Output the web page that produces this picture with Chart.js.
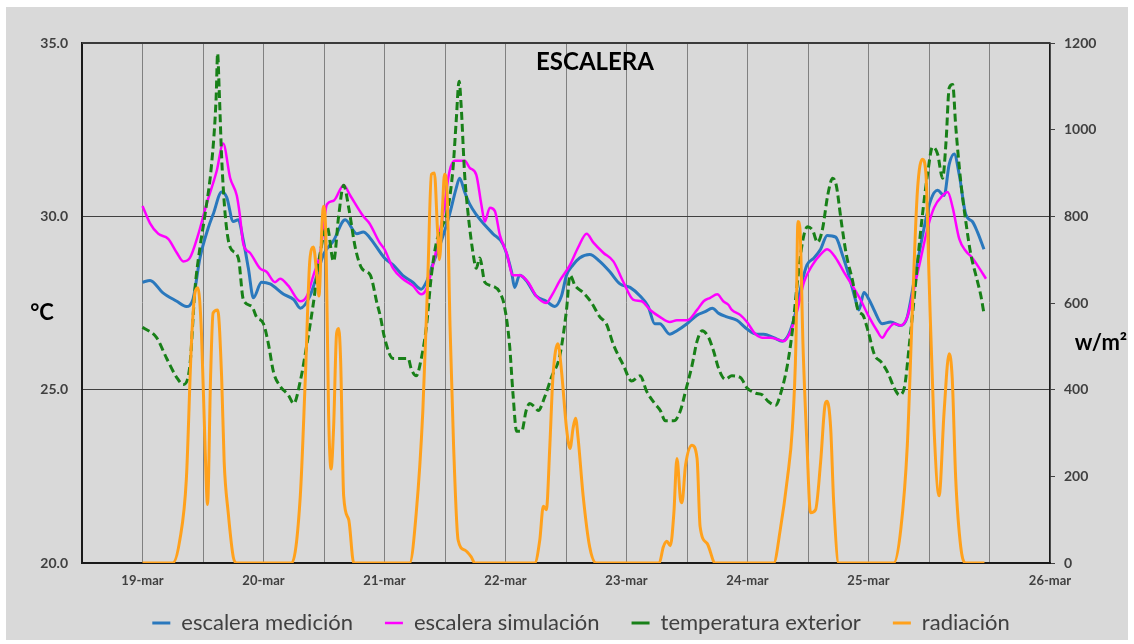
<!DOCTYPE html>
<html>
<head>
<meta charset="utf-8">
<title>ESCALERA</title>
<script src="https://cdn.jsdelivr.net/npm/chart.js@4.4.1/dist/chart.umd.min.js"></script>
<style>
  html, body { margin: 0; padding: 0; background: #fff; }
  #wrap { width: 1134px; height: 644px; }
</style>
</head>
<body>
<div id="wrap"><canvas id="chart" width="1134" height="644"></canvas></div>
<script>
// hours counted from 19-mar 00:00
const dayLabels = ['19-mar', '20-mar', '21-mar', '22-mar', '23-mar', '24-mar', '25-mar', '26-mar'];
const dayHours = [0, 24, 48, 72, 96, 120, 144, 180];
const gridHours = [-12, 0, 12, 24, 36, 48, 60, 72, 84, 96, 108, 120, 132, 144, 156, 168, 180];

const medHours = [0, 1.5, 4, 6.8, 8.7, 10, 11.4, 13, 14, 15.7,
  16.7, 18, 19, 20, 21, 22, 23.6, 25.3, 28, 30,
  31.3, 33.2, 34.6, 35.9, 37.9, 40.2, 42.5, 43.8, 45, 48,
  49.7, 51.6, 53.6, 55.3, 56.3, 57.3, 58.3, 59.3, 60.9, 62.2,
  62.9, 63.9, 64.9, 66.2, 67.9, 69.5, 71.5, 73.2, 73.8, 74.8,
  76.1, 78.1, 80.1, 81.8, 83.1, 84.1, 85.4, 86.7, 88.7, 90.7,
  92.7, 94.7, 96.7, 98.7, 100.3, 101.6, 102.6, 104.6, 106, 108,
  110, 111.6, 113, 114.3, 115.9, 117.9, 119.9, 121.9, 123.2, 125.2,
  126.9, 128.2, 129.5, 130.8, 131.8, 133.2, 134.5, 135.8, 137.5, 138.8,
  140.1, 141.4, 142.1, 143.1, 144.1, 145.1, 146.7, 148.4, 150.4, 151.7,
  153, 155, 156.3, 157.7, 159, 160, 161, 162, 163.3, 164.6,
  165.6, 166.9];
const medValues = [28.1, 28.15, 27.8, 27.55, 27.4, 27.6, 28.8, 29.65, 30.05, 30.7,
  30.55, 29.85, 29.9, 29.3, 28.5, 27.65, 28.1, 28.05, 27.75, 27.6,
  27.35, 27.7, 28.3, 28.9, 29.3, 29.9, 29.5, 29.55, 29.4, 28.8,
  28.6, 28.3, 28.1, 27.9, 28.1, 28.5, 28.9, 29.3, 30.05, 30.8,
  31.1, 30.7, 30.35, 30.05, 29.75, 29.5, 29.2, 28.4, 27.95, 28.3,
  28.15, 27.7, 27.55, 27.4, 27.7, 28.3, 28.6, 28.8, 28.9, 28.7,
  28.4, 28.05, 27.95, 27.7, 27.4, 26.9, 26.9, 26.6, 26.7, 26.9,
  27.15, 27.25, 27.35, 27.2, 27.1, 27.0, 26.75, 26.6, 26.6, 26.5,
  26.4, 26.6, 27.2, 28.1, 28.6, 28.8, 29.05, 29.45, 29.4, 28.9,
  28.3, 27.6, 27.3, 27.8, 27.6, 27.3, 26.9, 26.95, 26.85, 27.1,
  28.1, 29.65, 30.45, 30.75, 30.6, 31.5, 31.8, 31.2, 30.05, 29.85,
  29.55, 29.05];

const simHours = [0, 1.5, 3.1, 5.1, 6.8, 8.1, 9.4, 11, 12.7, 14.7,
  16, 17.4, 18.7, 19.3, 20, 21.3, 23.3, 24.6, 26.3, 27.3,
  28.9, 31.3, 32.6, 33.9, 35.2, 36.6, 37.9, 39.9, 41.2, 43.8,
  45, 47, 48, 49.7, 51.6, 53.6, 55.3, 56.3, 57.3, 58.3,
  59.6, 60.9, 61.9, 63.9, 64.9, 66.2, 67.2, 67.9, 68.9, 69.9,
  70.9, 72.2, 73.5, 74.8, 76.5, 78.1, 80.1, 81.1, 82.8, 84.8,
  86.4, 88.1, 89.4, 91.4, 93.4, 95.4, 97.3, 99, 100.7, 102.6,
  104.6, 106, 108, 110, 111.3, 112.6, 114, 115.2, 116.2, 116.9,
  118.6, 119.9, 121.6, 122.9, 124.6, 125.9, 127.2, 128.6, 129.9, 131.2,
  132.9, 134.5, 135.8, 137.5, 139.1, 140.8, 142.4, 144.1, 145.7, 146.7,
  147.7, 149.1, 150.4, 151.7, 153, 154.4, 155.7, 157, 158.7, 159.7,
  160.7, 162, 163.3, 164.6, 166, 167.3];
const simValues = [30.3, 29.8, 29.5, 29.35, 28.95, 28.7, 28.8, 29.45, 30.35, 31.3,
  32.1, 31.1, 30.6, 30.05, 29.2, 28.95, 28.5, 28.4, 28.1, 28.2,
  28.0, 27.55, 27.7, 28.3, 28.9, 30.35, 30.45, 30.9, 30.6, 30.0,
  29.8, 29.25, 29.05, 28.5, 28.2, 28.0, 27.75, 27.9, 28.4, 29.05,
  30.05, 31.3, 31.6, 31.6, 31.4, 31.2, 30.35, 29.85, 30.25, 30.15,
  29.45, 28.95, 28.3, 28.3, 28.1, 27.7, 27.5, 27.7, 28.15, 28.6,
  29.1, 29.5, 29.25, 28.95, 28.7, 28.1, 27.6, 27.55, 27.3, 27.1,
  26.95, 27.0, 27.0, 27.3, 27.55, 27.65, 27.75, 27.55, 27.45, 27.3,
  27.15, 26.95, 26.6, 26.5, 26.5, 26.45, 26.4, 26.7, 27.3, 28.1,
  28.6, 28.9, 29.05, 28.8, 28.4, 28.0, 27.6, 27.1, 26.7, 26.5,
  26.7, 26.9, 26.85, 27.1, 27.9, 28.8, 29.65, 30.25, 30.6, 30.7,
  30.25, 29.35, 29.0, 28.8, 28.5, 28.2];

const extHours = [0, 2.8, 4.8, 6.8, 8.1, 9.4, 10.4, 11.4, 12.4, 13.7,
  14.6, 14.9, 15.2, 15.7, 16.4, 17.4, 19, 20, 21.7, 22.6,
  24, 25, 26, 27.3, 28.9, 30, 31.3, 32.6, 33.9, 35.2,
  36.6, 37.9, 38.9, 39.9, 40.9, 42.2, 43.5, 45.2, 46.5, 47.2,
  48, 49.7, 51.3, 52.7, 53.3, 54.3, 55.3, 56.3, 57.3, 58.3,
  59.3, 60.6, 61.6, 62.2, 62.8, 63.2, 63.9, 64.6, 65.6, 66.2,
  66.9, 67.9, 69.2, 70.9, 71.8, 72.8, 73.5, 74.2, 75.2, 76.1,
  76.8, 77.8, 78.5, 79.8, 81.1, 82.8, 84.1, 84.8, 85.8, 87.4,
  89.1, 90.7, 92, 93.4, 95.4, 97, 98.7, 100, 101.6, 102.7,
  103.7, 105.4, 106.7, 107.7, 109, 110, 111, 112.3, 113.3, 114.3,
  115.6, 116.9, 118.6, 119.9, 121.6, 122.9, 124.2, 125.6, 126.5, 127.9,
  128.9, 129.9, 130.9, 131.9, 132.9, 133.9, 134.9, 135.9, 136.9, 137.6,
  138.6, 139.6, 140.9, 141.9, 142.9, 143.9, 145.2, 146.5, 147.8, 149.1,
  150.1, 151.1, 152.1, 153.1, 154.4, 155.7, 156.7, 157.7, 158.7, 159.4,
  160, 160.7, 161.3, 162.3, 163.3, 164.3, 165.3, 166.3, 166.9];
const extValues = [26.8, 26.5, 25.9, 25.35, 25.15, 25.7, 27.9, 29.1, 30.05, 31.5,
  33.4, 34.7, 33.7, 31.7, 30.05, 29.1, 28.8, 27.6, 27.4, 27.1,
  26.9, 26.3, 25.5, 25.1, 24.85, 24.6, 25.25, 26.3, 27.5, 28.9,
  29.7, 28.7, 30.0, 30.9, 30.25, 29.1, 28.5, 28.3, 27.5, 27.1,
  26.5, 25.9, 25.9, 25.9, 25.6, 25.4, 25.9, 26.8, 28.3, 29.25,
  29.65, 30.25, 31.4, 32.7, 33.9, 33.2, 31.2, 30.05, 28.9, 28.5,
  28.8, 28.1, 28.0, 27.8, 27.4, 26.3, 24.85, 23.8, 23.8, 24.4,
  24.6, 24.5, 24.4, 24.8, 25.35, 26.0, 27.3, 28.3, 28.0, 27.8,
  27.5, 27.1, 26.9, 26.3, 25.7, 25.25, 25.4, 24.95, 24.6, 24.4,
  24.1, 24.1, 24.4, 24.95, 25.7, 26.4, 26.7, 26.5, 26.1, 25.6,
  25.3, 25.4, 25.35, 25.05, 24.9, 24.85, 24.65, 24.55, 24.85, 25.7,
  26.7, 28.1, 29.25, 29.7, 29.6, 29.25, 29.65, 30.6, 31.1, 30.9,
  29.85, 28.9, 28.1, 27.3, 27.15, 26.7, 26.0, 25.8, 25.5, 25.05,
  24.85, 25.05, 26.3, 27.7, 29.65, 31.2, 32.0, 31.8, 31.1, 32.2,
  33.7, 33.8, 32.6, 31.0, 29.85, 28.9, 28.3, 27.7, 27.2];

const radHours = [0, 6, 7.4, 8.7, 9.7, 10.4, 11, 11.7, 12.4, 12.9,
  13.5, 14, 14.9, 15.7, 16.2, 17, 18, 18.7, 29.6, 31.3,
  32.3, 33.2, 33.9, 34.6, 35, 35.6, 35.9, 36.4, 36.9, 37.4,
  37.9, 38.5, 38.9, 39.3, 39.9, 40.9, 41.9, 53, 54.3, 55.6,
  56.6, 57.3, 57.9, 58.5, 58.9, 59.5, 59.9, 60.4, 61, 61.7,
  62.6, 63.9, 65.2, 65.9, 77.8, 78.8, 79.5, 80.1, 80.8, 81.4,
  82.4, 83.1, 84.1, 84.8, 85.4, 85.9, 86.4, 87.4, 88.7, 90,
  102.5, 103.3, 104, 104.7, 105.4, 106, 106.7, 107, 107.7, 109,
  110, 110.6, 112, 113.6, 125.2, 126.5, 127.9, 128.9, 129.6, 130,
  130.4, 131, 131.8, 132.5, 133.5, 134.5, 135.4, 135.8, 136.5, 137.1,
  138.1, 149, 150.4, 151.7, 152.7, 153.7, 154.7, 155.4, 156, 157,
  158, 159, 160, 160.6, 161.3, 162.3, 163.3, 167];
const radValues = [0, 0, 53, 194, 506, 623, 635, 530, 272, 135,
  428, 577, 584, 428, 233, 116, 14, 0, 0, 155,
  428, 700, 729, 662, 616, 780, 823, 741, 350, 217,
  311, 530, 541, 467, 155, 100, 0, 0, 116, 350,
  662, 897, 900, 772, 700, 819, 897, 858, 545, 272,
  53, 30, 14, 0, 0, 53, 131, 123, 272, 428,
  506, 444, 311, 264, 311, 334, 288, 155, 37, 0,
  0, 37, 50, 40, 116, 241, 147, 139, 225, 272,
  241, 84, 45, 0, 0, 77, 194, 311, 506, 788,
  772, 506, 272, 116, 123, 233, 366, 373, 311, 139,
  0, 0, 77, 272, 584, 858, 932, 897, 662, 311,
  155, 350, 483, 428, 194, 37, 0, 0];

const textColor = '#404040';
const tickFont = { family: 'Lato, sans-serif', size: 14, weight: 'bold' };
const legendPadding = 32;
const legendFontSize = 22;
const toPoints = (hours, values) => hours.map((h, i) => ({ x: h, y: values[i] }));

const frame = {
  id: 'frame',
  afterLayout(chart) {
    // legend row sits 60px under the plot and a bit right of centre, like the original
    const lg = chart.legend;
    if (lg) {
      lg.top = chart.chartArea.bottom + 60 - legendPadding - legendFontSize / 2;
      lg.bottom = chart.height;
      lg.height = lg.bottom - lg.top;
      lg.left += 14;
      lg.right += 14;
    }
  },
  beforeDraw(chart) {
    const ctx = chart.ctx;
    ctx.save();
    ctx.fillStyle = '#ffffff';
    ctx.fillRect(0, 0, chart.width, chart.height);
    ctx.fillStyle = '#d9d9d9';
    ctx.fillRect(6, 7, chart.width - 12, chart.height - 11);
    ctx.restore();
  },
  afterDraw(chart) {
    const ctx = chart.ctx;
    const a = chart.chartArea;
    ctx.save();
    ctx.strokeStyle = '#3a3a3a';
    ctx.lineWidth = 2;
    ctx.beginPath();
    ctx.moveTo(a.left, a.top);
    ctx.lineTo(a.right, a.top);
    ctx.stroke();

    ctx.fillStyle = '#000';
    ctx.textAlign = 'center';
    ctx.textBaseline = 'middle';
    ctx.font = 'bold 24px Lato, sans-serif';
    ctx.fillText('ESCALERA', 595, 62);
    ctx.font = 'bold 22px Lato, sans-serif';
    ctx.fillText('°C', 42, 313);
    ctx.fillText('w/m²', 1101, 343);
    ctx.restore();
  }
};

new Chart(document.getElementById('chart'), {
  type: 'line',
  data: {
    datasets: [
      {
        label: 'escalera medición',
        data: toPoints(medHours, medValues),
        borderColor: '#2a78bd',
        backgroundColor: '#2a78bd',
        borderWidth: 3,
        yAxisID: 'y',
        order: 4
      },
      {
        label: 'escalera simulación',
        data: toPoints(simHours, simValues),
        borderColor: '#ff00ff',
        backgroundColor: '#ff00ff',
        borderWidth: 2.5,
        yAxisID: 'y',
        order: 3
      },
      {
        label: 'temperatura exterior',
        data: toPoints(extHours, extValues),
        borderColor: '#188018',
        backgroundColor: '#188018',
        borderWidth: 3,
        borderDash: [8, 4],
        yAxisID: 'y',
        order: 2
      },
      {
        label: 'radiación',
        data: toPoints(radHours, radValues),
        borderColor: '#ffa11c',
        backgroundColor: '#ffa11c',
        borderWidth: 3,
        yAxisID: 'y1',
        order: 1
      }
    ]
  },
  options: {
    responsive: false,
    animation: false,
    parsing: false,
    layout: { padding: { top: 43, bottom: 19, left: 0, right: 0 } },
    elements: {
      point: { radius: 0 },
      line: { cubicInterpolationMode: 'monotone' }
    },
    plugins: {
      tooltip: { enabled: false },
      legend: {
        position: 'bottom',
        maxHeight: 26,
        labels: {
          usePointStyle: true,
          pointStyle: 'line',
          pointStyleWidth: 18,
          color: textColor,
          padding: legendPadding,
          font: { family: 'Lato, sans-serif', size: legendFontSize },
          sort: (a, b) => a.datasetIndex - b.datasetIndex
        }
      }
    },
    scales: {
      x: {
        type: 'linear',
        min: -12,
        max: 180,
        afterBuildTicks: (axis) => { axis.ticks = gridHours.map(v => ({ value: v })); },
        afterFit: (axis) => { axis.height = 36; },
        ticks: {
          autoSkip: false,
          maxRotation: 0,
          padding: 10,
          color: textColor,
          font: { family: 'Lato, sans-serif', size: 13, weight: 'bold' },
          callback: (v) => {
            const i = dayHours.indexOf(v);
            return i >= 0 ? dayLabels[i] : '';
          }
        },
        grid: { color: '#808080', lineWidth: 1, drawTicks: false },
        border: { display: true, color: '#1a1a1a', width: 2 }
      },
      y: {
        position: 'left',
        min: 20,
        max: 35,
        afterFit: (axis) => { axis.width = 82; },
        ticks: {
          stepSize: 5,
          padding: 14,
          color: textColor,
          font: tickFont,
          callback: (v) => v.toFixed(1)
        },
        grid: { color: '#404040', lineWidth: 1, drawTicks: false },
        border: { display: true, color: '#1a1a1a', width: 2 }
      },
      y1: {
        position: 'right',
        min: 0,
        max: 1200,
        afterFit: (axis) => { axis.width = 84; },
        ticks: {
          stepSize: 200,
          padding: 9,
          color: textColor,
          font: tickFont,
          callback: (v) => String(v)
        },
        grid: { drawOnChartArea: false, drawTicks: true, tickLength: 5, color: '#404040' },
        border: { display: true, color: '#1a1a1a', width: 1.5 }
      }
    }
  },
  plugins: [frame]
});
</script>
</body>
</html>
